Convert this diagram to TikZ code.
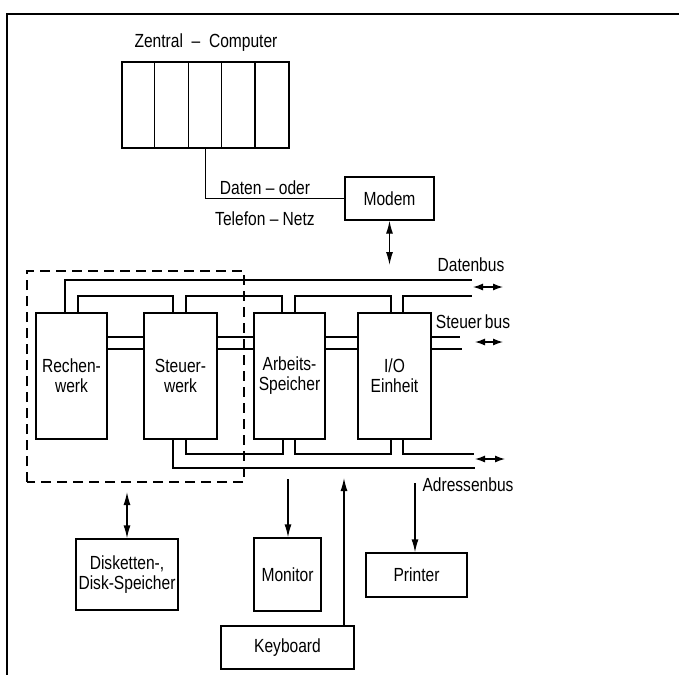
\documentclass[tikz,border=0pt]{standalone}
\usepackage{fontspec}
\setmainfont{Liberation Sans}[FakeStretch=0.82]
\usetikzlibrary{arrows.meta,calc}
\tikzset{
  txt/.style={font=\fontsize{19}{20}\selectfont, inner sep=0pt, align=center},
  unit/.style={txt, draw, line width=1.3pt, minimum width=#1},
  arr/.style={line width=1.3pt, -{Latex[length=13pt,width=7pt]}},
  darr/.style={line width=1.3pt, {Latex[length=13pt,width=7pt]}-{Latex[length=13pt,width=7pt]}},
  busarr/.style={line width=1.3pt, {Latex[length=10pt,width=7pt]}-{Latex[length=10pt,width=7pt]}},
  bus/.style={line width=1.3pt}
}

\begin{document}
\begin{tikzpicture}[x=1pt,y=-1pt]
			%%%%% FRAME %%%%%
			\useasboundingbox (0,0) rectangle (679,675);
			\draw[line width=1.3pt] (679,14) -- (7,14) -- (7,675);
			
			%%%%% ZENTRAL - COMPUTER %%%%%
			\node[txt] (cclbl) at (206,43) {Zentral\ \ --\ \ Computer};
			\node[unit=167pt, minimum height=86pt] (cc) at (205.5,105) {};
			\foreach \i in {1,...,4}
				\draw[bus] ($(cc.north west)+(33.4*\i,0)$) -- ($(cc.south west)+(33.4*\i,0)$);
			
			\node[unit=89pt, minimum height=43pt] (modem) at (389.5,198.5) {Modem};
			\draw[bus] (cc.south) |- (modem.west);
			\node[txt] (netz1) at (265,188) {Daten -- oder};
			\node[txt] (netz2) at (265,219) {Telefon -- Netz};
			\coordinate (modembus) at (389.5,265);
			\draw[darr] (modem.south) -- (modembus);
			
			%%%%% RECHNER %%%%%
			\node[unit=71pt, minimum height=126pt] (rw) at (71.5,376) {Rechen-\\werk};
			\node[unit=73pt, minimum height=126pt] (sw) at (180.5,376) {Steuer-\\werk};
			\node[unit=71pt, minimum height=126pt] (as) at (289.5,376) {Arbeits-\\Speicher};
			\node[unit=73pt, minimum height=126pt] (io) at (394.5,376) {I/O\\Einheit};
			\draw[line width=1.3pt, dash pattern=on 10pt off 6pt] (27,482) -- (27,271) -- (244,271) -- (244,482) -- cycle;
			
			% Datenbus
			\draw[bus] (65,313) -- (65,280) -- (472,280);
			\draw[bus] (78,313) -- (78,296) -- (173,296) -- (173,313);
			\draw[bus] (186,313) -- (186,296) -- (282,296) -- (282,313);
			\draw[bus] (295,313) -- (295,296) -- (391,296) -- (391,313);
			\draw[bus] (403,313) -- (403,296) -- (472,296);
			\node[txt] (dbus) at (471,265) {Datenbus};
			\draw[busarr] (473,287) -- (503,287);
			
			% Steuerbus
			\foreach \y in {337,349} {
				\draw[bus] (rw.east |- 0,\y) -- (sw.west |- 0,\y);
				\draw[bus] (sw.east |- 0,\y) -- (as.west |- 0,\y);
				\draw[bus] (as.east |- 0,\y) -- (io.west |- 0,\y);
			}
			\draw[bus] (io.east |- 0,337) -- (460,337);
			\draw[bus] (io.east |- 0,349) -- (462,349);
			\node[txt] (sbus) at (473,322) {Steuer\,bus};
			\draw[busarr] (475,342) -- (503,342);
			
			% Adressenbus
			\draw[bus] (186,439) -- (186,454) -- (283,454) -- (283,439);
			\draw[bus] (295,439) -- (295,454) -- (391,454) -- (391,439);
			\draw[bus] (403,439) -- (403,454) -- (474,454);
			\draw[bus] (173,439) -- (173,468) -- (475,468);
			\node[txt] (abus) at (468,485) {Adressenbus};
			\draw[busarr] (475,459) -- (505,459);
			
			%%%%% PERIPHERIE %%%%%
			\node[unit=102pt, minimum height=71pt] (disk) at (127,574.5) {Disketten-,\\Disk-Speicher};
			\node[unit=67pt, minimum height=73pt] (mon) at (287.5,574.5) {Monitor};
			\node[unit=133pt, minimum height=43pt] (kbd) at (287.5,647.5) {Keyboard};
			\node[unit=101pt, minimum height=44pt] (prn) at (416.5,575) {Printer};
			
			\coordinate (diskbus) at (127,492);
			\coordinate (monbus) at (288,479);
			\coordinate (kbdbus) at (344,478);
			\coordinate (prnbus) at (415,483);
			\draw[darr] (diskbus) -- (disk.north);
			\draw[arr] (monbus) -- (mon.north -| monbus);
			\draw[arr] (kbd.north -| kbdbus) -- (kbdbus);
			\draw[arr] (prnbus) -- (prn.north -| prnbus);
			
			%%%%% END %%%%%
\end{tikzpicture}
\end{document}
